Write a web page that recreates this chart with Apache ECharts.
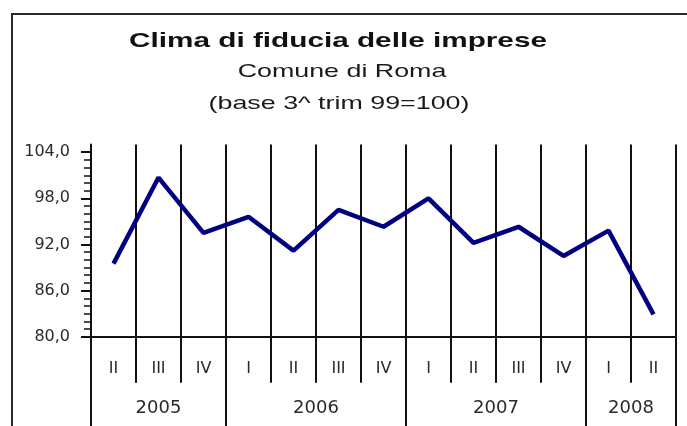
<!DOCTYPE html>
<html>
<head>
<meta charset="utf-8">
<script src="https://cdn.jsdelivr.net/npm/echarts@6/dist/echarts.min.js"></script>
<style>
html,body{margin:0;padding:0;background:#fff;}
#chart{width:687px;height:426px;}
</style>
</head>
<body>
<div id="chart"></div>
<script>
// ---- data ----
var quarters = ['II','III','IV','I','II','III','IV','I','II','III','IV','I','II'];
var climate = [89.5, 100.7, 93.5, 95.6, 91.2, 96.5, 94.3, 98.0, 92.2, 94.3, 90.5, 93.8, 82.9];
var years = ['2005','2006','2007','2008'];
var quartersPerYear = [3, 4, 4, 2];
var yTickLabels = [80, 86, 92, 98, 104];
var titleText = 'Clima di fiducia delle imprese';
var subtitle1 = 'Comune di Roma';
var subtitle2 = '(base 3^ trim 99=100)';

// derived positions of year groups on the quarter scale
var yearBounds = [0];
var yearCenters = [];
quartersPerYear.forEach(function (n, i) {
  var start = yearBounds[yearBounds.length - 1];
  yearCenters.push(start + n / 2);
  yearBounds.push(start + n);
});
var minorTicks = [];
for (var v = yTickLabels[0]; v <= yTickLabels[yTickLabels.length - 1]; v++) minorTicks.push(v);

var LINE = '#111';
var chart = echarts.init(document.getElementById('chart'), null, {renderer: 'canvas'});
chart.setOption({
  animation: false,
  backgroundColor: '#fff',
  grid: {left: 91, right: 11, top: 144.5, bottom: 89.3, containLabel: false},
  graphic: [
    {type: 'rect', shape: {x: 12, y: 14, width: 700, height: 440},
     style: {fill: 'none', stroke: '#2a2a2a', lineWidth: 2}, silent: true},
    {type: 'text', x: 338, y: 41, scaleX: 1.45,
     style: {text: titleText, fontFamily: 'Liberation Sans', fontWeight: 'bold', fontSize: 20.5,
             fill: '#111', align: 'center', verticalAlign: 'middle', textAlign: 'center', textVerticalAlign: 'middle'}},
    {type: 'text', x: 342, y: 72, scaleX: 1.45,
     style: {text: subtitle1, fontFamily: 'Liberation Sans', fontSize: 18.5,
             fill: '#1a1a1a', align: 'center', verticalAlign: 'middle', textAlign: 'center', textVerticalAlign: 'middle'}},
    {type: 'text', x: 339, y: 104, scaleX: 1.45,
     style: {text: subtitle2, fontFamily: 'Liberation Sans', fontSize: 18.5,
             fill: '#1a1a1a', align: 'center', verticalAlign: 'middle', textAlign: 'center', textVerticalAlign: 'middle'}}
  ],
  xAxis: [
    {
      type: 'category', data: quarters, position: 'bottom', boundaryGap: true,
      axisLine: {show: true, lineStyle: {color: LINE, width: 2}},
      axisTick: {show: true, interval: 0, length: 46, lineStyle: {color: LINE, width: 2}},
      axisLabel: {interval: 0, margin: 24, fontFamily: 'DejaVu Sans', fontSize: 16, color: '#2a2a2a'},
      splitLine: {show: true, interval: 0, lineStyle: {color: LINE, width: 2}}
    },
    {
      type: 'value', min: 0, max: quarters.length, position: 'bottom',
      axisLine: {show: false},
      axisTick: {show: true, customValues: yearBounds, length: 89.3, lineStyle: {color: LINE, width: 2}},
      axisLabel: {show: true, customValues: yearCenters, margin: 63, fontFamily: 'DejaVu Sans', fontSize: 18, color: '#2a2a2a',
        formatter: function (val) {
          for (var i = 0; i < yearCenters.length; i++) if (Math.abs(yearCenters[i] - val) < 1e-6) return years[i];
          return '';
        }},
      splitLine: {show: false}
    }
  ],
  yAxis: [
    {
      type: 'value', min: 80, max: 105, position: 'left',
      axisLine: {show: true, lineStyle: {color: LINE, width: 2}},
      axisTick: {show: true, customValues: yTickLabels, length: 10, lineStyle: {color: LINE, width: 2}},
      axisLabel: {show: true, customValues: yTickLabels, margin: 21, fontFamily: 'DejaVu Sans', fontSize: 16, color: '#2a2a2a',
        formatter: function (val) { return val.toFixed(1).replace('.', ','); }},
      splitLine: {show: false}
    },
    {
      type: 'value', min: 80, max: 105, position: 'left',
      axisLine: {show: false},
      axisTick: {show: true, customValues: minorTicks, length: 7, lineStyle: {color: LINE, width: 1.5}},
      axisLabel: {show: false},
      splitLine: {show: false}
    }
  ],
  series: [{
    type: 'line', data: climate, xAxisIndex: 0, yAxisIndex: 0,
    symbol: 'none', lineStyle: {color: '#000080', width: 4.5}, itemStyle: {color: '#000080'}
  }]
});
</script>
</body>
</html>
